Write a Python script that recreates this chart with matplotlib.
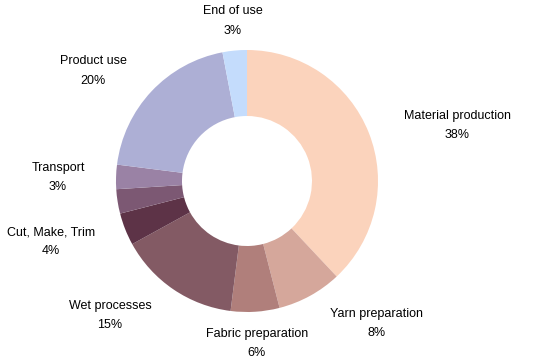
import matplotlib.pyplot as plt

plt.rcParams['font.family'] = ['Liberation Sans', 'DejaVu Sans']

# Lifecycle stages, clockwise from the top
stages = ['Material production', 'Yarn preparation', 'Fabric preparation',
          'Wet processes', 'Cut, Make, Trim', '', 'Transport',
          'Product use', 'End of use']
shares = [38, 8, 6, 15, 4, 3, 3, 20, 3]
colors = ['#FBD3BC', '#D5A79B', '#B07F7B', '#835A64', '#5D3347',
          '#7C5873', '#9A82A5', '#ADAFD5', '#C4DCFC']

# label centres in pixels (x from left, y from top)
label_pos = [(457, 125), (377, 324), (257, 344), (110, 316), (51, 242),
             None, (58, 177), (93, 71), (233, 21)]

W, H = 539, 362
fig = plt.figure(figsize=(W / 100, H / 100), dpi=100)
ax = fig.add_axes([0, 0, 1, 1])
ax.set_xlim(0, W)
ax.set_ylim(0, H)
ax.set_aspect('equal')
ax.axis('off')

ax.pie(shares, colors=colors, startangle=90, counterclock=False,
       center=(247, H - 181), radius=131,
       wedgeprops=dict(width=66, linewidth=0), frame=True)
ax.set_xlim(0, W)
ax.set_ylim(0, H)
ax.axis('off')

for name, val, pos in zip(stages, shares, label_pos):
    if pos is None:
        continue
    x, y = pos
    ax.text(x, H - y + 9.5, name, ha='center', va='center', fontsize=9)
    ax.text(x, H - y - 9.5, f'{val}%', ha='center', va='center', fontsize=9)

fig.savefig('out.png', dpi=100)
